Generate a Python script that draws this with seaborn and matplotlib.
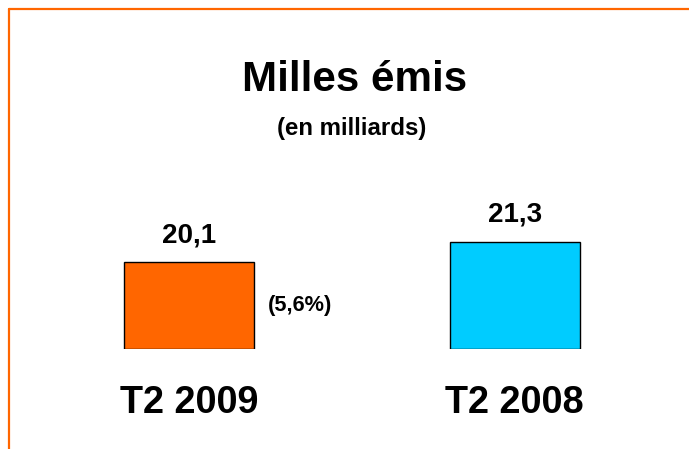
import matplotlib
matplotlib.use("Agg")
import matplotlib.pyplot as plt
import seaborn as sns
import pandas as pd
from matplotlib.lines import Line2D

# chart data
categories = ["T2 2009", "T2 2008"]
values = [20.1, 21.3]
value_labels = ["20,1", "21,3"]
change_label = "(5,6%)"
bar_colors = ["#FF6600", "#00CCFF"]
title = "Milles émis"
subtitle = "(en milliards)"

y_min = 15
y_max = 29.6

sns.set_theme(style="white")
plt.rcParams["font.family"] = ["Liberation Sans", "DejaVu Sans"]
plt.rcParams["text.color"] = "black"

fig = plt.figure(figsize=(6.89, 4.49), dpi=100)
fig.patch.set_facecolor("white")
ax = fig.add_axes([26.5 / 689, 99.7 / 449, 651 / 689, 249.3 / 449])

df = pd.DataFrame({"cat": categories, "val": values})
sns.barplot(data=df, x="cat", y="val", hue="cat", palette=bar_colors,
            saturation=1, width=0.4, edgecolor="black", linewidth=1.0,
            legend=False, ax=ax)

# bars start at the axis floor so the bottom edge stays visible
for p in ax.patches:
    h = p.get_height()
    p.set_y(y_min)
    p.set_height(h - y_min)

ax.set_xlim(-0.5, 1.5)
ax.set_ylim(y_min, y_max)
ax.axis("off")

for i, (v, lab) in enumerate(zip(values, value_labels)):
    ax.annotate(lab, xy=(i, v), xytext=(0, 19.5), textcoords="offset points",
                ha="center", va="center", fontsize=20, fontweight="bold",
                color="black")
    ax.annotate(categories[i], xy=(i, y_min), xytext=(0, -38.5),
                textcoords="offset points", ha="center", va="center",
                fontsize=27.3, fontweight="bold", color="black",
                annotation_clip=False)

# change percentage next to the first bar
p0 = ax.patches[0]
ax.annotate(change_label, xy=(p0.get_x() + p0.get_width(), y_min + p0.get_height() / 2),
            xytext=(9.5, 0), textcoords="offset points", ha="left", va="center",
            fontsize=15.7, fontweight="bold", color="black")

fig.text(354.5 / 689, 1 - 80 / 449, title, ha="center", va="center",
         fontsize=30.3, fontweight="bold", color="black")
fig.text(351.5 / 689, 1 - 129 / 449, subtitle, ha="center", va="center",
         fontsize=17.3, fontweight="bold", color="black")

# orange frame (top and left)
fig.add_artist(Line2D([8.5 / 689, 1], [1 - 8.5 / 449, 1 - 8.5 / 449],
                      color="#FF6600", lw=1.6, transform=fig.transFigure))
fig.add_artist(Line2D([8.5 / 689, 8.5 / 689], [0, 1 - 8.5 / 449],
                      color="#FF6600", lw=1.6, transform=fig.transFigure))

fig.savefig("out.png", dpi=100, facecolor="white")
